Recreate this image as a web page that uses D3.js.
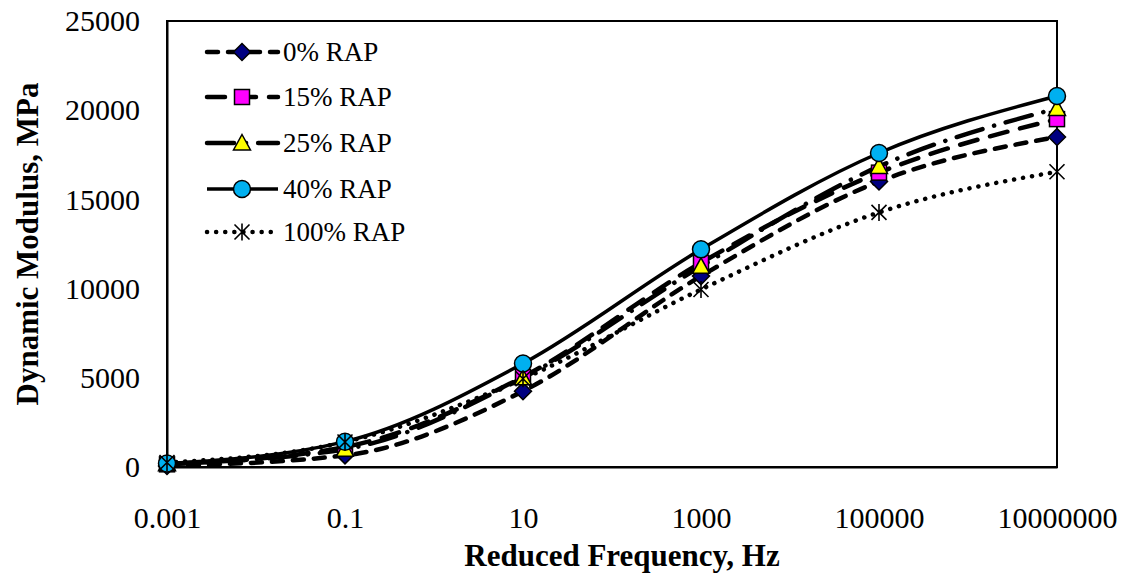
<!DOCTYPE html>
<html>
<head>
<meta charset="utf-8">
<script src="https://cdn.jsdelivr.net/npm/d3@7"></script>
<style>
  html, body { margin: 0; padding: 0; background: #fff; }
  svg { display: block; }
  text { font-family: "Liberation Serif", "Times New Roman", serif; fill: #000; }
</style>
</head>
<body>
<svg id="chart" width="1128" height="574"></svg>
<script>
// ---- data ----
const frequencies = [0.001, 0.1, 10, 1000, 100000, 10000000];
const xTickLabels = ["0.001", "0.1", "10", "1000", "100000", "10000000"];
const yTickValues = [0, 5000, 10000, 15000, 20000, 25000];
const seriesNames = ["0% RAP", "15% RAP", "25% RAP", "40% RAP", "100% RAP"];
const rap0   = [60, 650, 4250, 10700, 16000, 18500];
const rap15  = [150, 1120, 5050, 11450, 16500, 19500];
const rap25  = [180, 1000, 5000, 11250, 16850, 20100];
const rap40  = [200, 1420, 5800, 12200, 17600, 20800];
const rap100 = [250, 1400, 4950, 9950, 14270, 16550];
const seriesValues = [rap0, rap15, rap25, rap40, rap100];

// ---- styles ----
const styles = [
  { dash: "11,10", width: 4.5, cap: "round", marker: "diamond", fill: "#000080" },
  { dash: "18,13", width: 4.5, cap: "round", marker: "square", fill: "#FF00FF" },
  { dash: "27,12,0.1,12", width: 4.5, cap: "round", marker: "triangle", fill: "#FFFF00" },
  { dash: null, width: 3.5, cap: "butt", marker: "circle", fill: "#00B0F0" },
  { dash: "0.1,9", width: 4.5, cap: "round", marker: "star", fill: "none" }
];

const svg = d3.select("#chart");
const L = 167, R = 1057, T = 21, B = 467;
const x = d3.scaleLog().domain([0.001, 10000000]).range([L, R]);
const y = d3.scaleLinear().domain([0, 25000]).range([B, T]);

// plot box
svg.append("rect").attr("x", L).attr("y", T).attr("width", R - L).attr("height", B - T)
  .attr("fill", "none").attr("stroke", "#000").attr("stroke-width", 2);

// axes (labels only, no tick marks)
const yAxis = d3.axisLeft(y).tickValues(yTickValues).tickSize(0).tickPadding(27).tickFormat(d3.format("d"));
const gy = svg.append("g").attr("transform", `translate(${L},0)`).call(yAxis);
gy.select(".domain").attr("stroke", "#000").attr("stroke-width", 2);
gy.selectAll("text").style("font-family", '"Liberation Serif", "Times New Roman", serif')
  .style("font-size", "30px").attr("fill", "#000");

const xAxis = d3.axisBottom(x).tickValues(frequencies).tickSize(0).tickPadding(40)
  .tickFormat((d, i) => xTickLabels[i]);
const gx = svg.append("g").attr("transform", `translate(0,${B})`).call(xAxis);
gx.select(".domain").attr("stroke", "#000").attr("stroke-width", 2);
gx.selectAll("text").style("font-family", '"Liberation Serif", "Times New Roman", serif')
  .style("font-size", "30px").attr("fill", "#000");

// axis titles
svg.append("text").attr("x", 622).attr("y", 566).attr("text-anchor", "middle")
  .style("font-size", "31px").style("font-weight", "bold").text("Reduced Frequency, Hz");
svg.append("text").attr("transform", "translate(38,244) rotate(-90)").attr("text-anchor", "middle")
  .style("font-size", "31px").style("font-weight", "bold").text("Dynamic Modulus, MPa");

// markers
function drawMarker(g, type, cx, cy, fill) {
  const s = 8.5;
  if (type === "diamond") {
    g.append("path").attr("d", `M${cx},${cy - s}L${cx + s},${cy}L${cx},${cy + s}L${cx - s},${cy}Z`)
      .attr("fill", fill).attr("stroke", "#000").attr("stroke-width", 1.5);
  } else if (type === "square") {
    g.append("rect").attr("x", cx - 7.5).attr("y", cy - 7.5).attr("width", 15).attr("height", 15)
      .attr("fill", fill).attr("stroke", "#000").attr("stroke-width", 1.5);
  } else if (type === "triangle") {
    g.append("path").attr("d", `M${cx},${cy - 8.5}L${cx + 8.5},${cy + 7}L${cx - 8.5},${cy + 7}Z`)
      .attr("fill", fill).attr("stroke", "#000").attr("stroke-width", 1.5);
  } else if (type === "circle") {
    g.append("circle").attr("cx", cx).attr("cy", cy).attr("r", 8.5)
      .attr("fill", fill).attr("stroke", "#000").attr("stroke-width", 1.5);
  } else if (type === "star") {
    const a = 7.5;
    g.append("path").attr("d",
      `M${cx - a},${cy - a}L${cx + a},${cy + a}M${cx - a},${cy + a}L${cx + a},${cy - a}M${cx},${cy - a - 1}L${cx},${cy + a + 1}`)
      .attr("fill", "none").attr("stroke", "#000").attr("stroke-width", 1.6);
  }
}

const line = d3.line().x(d => x(d[0])).y(d => y(d[1])).curve(d3.curveMonotoneX);
const linesG = svg.append("g");
seriesValues.forEach((vals, i) => {
  const st = styles[i];
  const pts = frequencies.map((f, j) => [f, vals[j]]);
  linesG.append("path").attr("d", line(pts)).attr("fill", "none").attr("stroke", "#000")
    .attr("stroke-width", st.width).attr("stroke-linecap", st.cap)
    .attr("stroke-dasharray", st.dash);
});
const markG = svg.append("g");
seriesValues.forEach((vals, i) => {
  const st = styles[i];
  frequencies.forEach((f, j) => drawMarker(markG, st.marker, x(f), y(vals[j]), st.fill));
});

// legend
const legendY = [52, 97, 143, 189, 232];
const lg = svg.append("g");
seriesNames.forEach((name, i) => {
  const st = styles[i];
  const yy = legendY[i];
  lg.append("line").attr("x1", 207).attr("x2", 278).attr("y1", yy).attr("y2", yy)
    .attr("stroke", "#000").attr("stroke-width", st.width).attr("stroke-linecap", st.cap)
    .attr("stroke-dasharray", st.dash);
  drawMarker(lg, st.marker, 242, yy, st.fill);
  lg.append("text").attr("x", 283).attr("y", yy).attr("dy", "0.35em")
    .style("font-size", "27px").text(name);
});
</script>
</body>
</html>
